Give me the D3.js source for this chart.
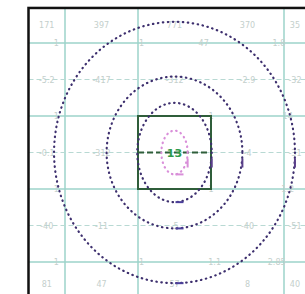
<!DOCTYPE html>
<html>
<head>
<meta charset="utf-8">
<script src="https://cdn.jsdelivr.net/npm/d3@7"></script>
<style>
  body { margin: 0; background: #fff; }
  .lbl { font-family: "DejaVu Sans", sans-serif; font-size: 8px; fill: #c4cfcc; }
</style>
</head>
<body>
<script>
// grid positions (data units)
var gridCols = [0, 1, 3];
var gridRows = [0, 1, 2, 3];
var dashRows = [0.5, 1.5, 2.5];

// contour levels: radii around centre (1.5, 1.5)
var contourRx = [1.65, 0.93, 0.51, 0.18];
var contourRy = [1.79, 1.04, 0.68, 0.30];
var contourColor = ["#3d2f6e", "#3d2f6e", "#3d2f6e", "#d98fd9"];

// cell labels
var labelCols = [-0.25, 0.5, 1.5, 2.5, 3.15];
var labelRows = [-0.25, 0.5, 1.5, 2.5, 3.3];
var labelText = [
    ["171", "397", "771", "370", "35"],
    ["-5.2", "-417", "-312", "-2.9", "-32"],
    ["-0.1", "-312", "", "-4", "-31"],
    ["-40", "-11", "-5", "-40", "-51"],
    ["81", "47", "57", "8", "40"]
];
var gridLabels = [
    {x: -0.12, y: 0, t: "1"}, {x: 1.05, y: 0, t: "1"}, {x: 1.9, y: 0, t: "47"}, {x: 2.93, y: 0, t: "1.8"},
    {x: -0.12, y: 1, t: "1"}, {x: 2.0, y: 1, t: "1"}, {x: 3.05, y: 1, t: "14"},
    {x: -0.12, y: 2, t: "1"}, {x: 2.0, y: 2, t: "1"}, {x: 3.05, y: 2, t: "1.2"},
    {x: -0.12, y: 3, t: "1"}, {x: 1.05, y: 3, t: "1"}, {x: 2.05, y: 3, t: "1.1"}, {x: 2.9, y: 3, t: "2.85"}
];
var centreValue = "13";

window.onload = function(){
    var w = 305, h = 294;
    var svg = d3.select("body").append("svg")
        .attr("width", w).attr("height", h);

    var x = d3.scaleLinear().domain([0, 1]).range([65, 138]);
    var y = d3.scaleLinear().domain([0, 1]).range([43, 116]);

    // solid teal grid
    svg.selectAll(".vline").data(gridCols).enter().append("line")
        .attr("x1", function(d){ return x(d); }).attr("x2", function(d){ return x(d); })
        .attr("y1", y(-0.48)).attr("y2", h)
        .attr("stroke", "#9dd3ca").attr("stroke-width", 1.5);
    svg.selectAll(".hline").data(gridRows).enter().append("line")
        .attr("x1", x(-0.5)).attr("x2", w)
        .attr("y1", function(d){ return y(d); }).attr("y2", function(d){ return y(d); })
        .attr("stroke", "#9dd3ca").attr("stroke-width", 1.5);

    // dashed rows
    svg.selectAll(".dline").data(dashRows).enter().append("line")
        .attr("x1", x(-0.5)).attr("x2", w)
        .attr("y1", function(d){ return y(d); }).attr("y2", function(d){ return y(d); })
        .attr("stroke", "#b8d9d3").attr("stroke-width", 1.2)
        .attr("stroke-dasharray", "5,3");

    // labels
    labelText.forEach(function(row, r){
        row.forEach(function(t, c){
            svg.append("text").attr("class", "lbl")
                .attr("x", x(labelCols[c])).attr("y", y(labelRows[r]) + 3)
                .attr("text-anchor", "middle").text(t);
        });
    });
    svg.selectAll(".glbl").data(gridLabels).enter().append("text")
        .attr("class", "lbl")
        .attr("x", function(d){ return x(d.x); })
        .attr("y", function(d){ return y(d.y) + 3; })
        .attr("text-anchor", "middle")
        .text(function(d){ return d.t; });

    // centre cell box
    svg.append("rect")
        .attr("x", x(1)).attr("y", y(1))
        .attr("width", x(2) - x(1)).attr("height", y(2) - y(1))
        .attr("fill", "none").attr("stroke", "#2f5e3a").attr("stroke-width", 2);
    svg.append("line")
        .attr("x1", x(1)).attr("x2", x(2))
        .attr("y1", y(1.5)).attr("y2", y(1.5))
        .attr("stroke", "#2f5e3a").attr("stroke-width", 2)
        .attr("stroke-dasharray", "6,3");

    // contours
    var cx = x(1.5), cy = y(1.5);
    contourRx.forEach(function(rx, i){
        svg.append("ellipse")
            .attr("cx", cx).attr("cy", cy)
            .attr("rx", x(rx) - x(0)).attr("ry", y(contourRy[i]) - y(0))
            .attr("fill", "none")
            .attr("stroke", contourColor[i]).attr("stroke-width", 2.2)
            .attr("stroke-linecap", "round")
            .attr("stroke-dasharray", "0.5,4.5");
        // short marks at bottom and right of each contour
        var ex = x(rx) - x(0), ey = y(contourRy[i]) - y(0);
        svg.append("line")
            .attr("x1", cx + 1).attr("x2", cx + 9)
            .attr("y1", cy + ey).attr("y2", cy + ey)
            .attr("stroke", i == 3 ? contourColor[i] : "#4b3f9a").attr("stroke-width", 2);
        svg.append("line")
            .attr("x1", cx + ex).attr("x2", cx + ex)
            .attr("y1", cy + 6).attr("y2", cy + 15)
            .attr("stroke", i == 3 ? contourColor[i] : "#5a3f8a").attr("stroke-width", 2);
    });

    svg.append("text")
        .attr("x", cx).attr("y", cy + 4)
        .attr("text-anchor", "middle")
        .style("font-family", "DejaVu Sans, sans-serif")
        .style("font-size", "11px").style("font-weight", "bold")
        .attr("fill", "#2e9a4a")
        .text(centreValue);

    // frame
    svg.append("rect")
        .attr("x", x(-0.5)).attr("y", y(-0.48))
        .attr("width", x(3.6) - x(-0.5)).attr("height", y(3.6) - y(-0.48))
        .attr("fill", "none").attr("stroke", "#111").attr("stroke-width", 2.5);
};
</script>
</body>
</html>
